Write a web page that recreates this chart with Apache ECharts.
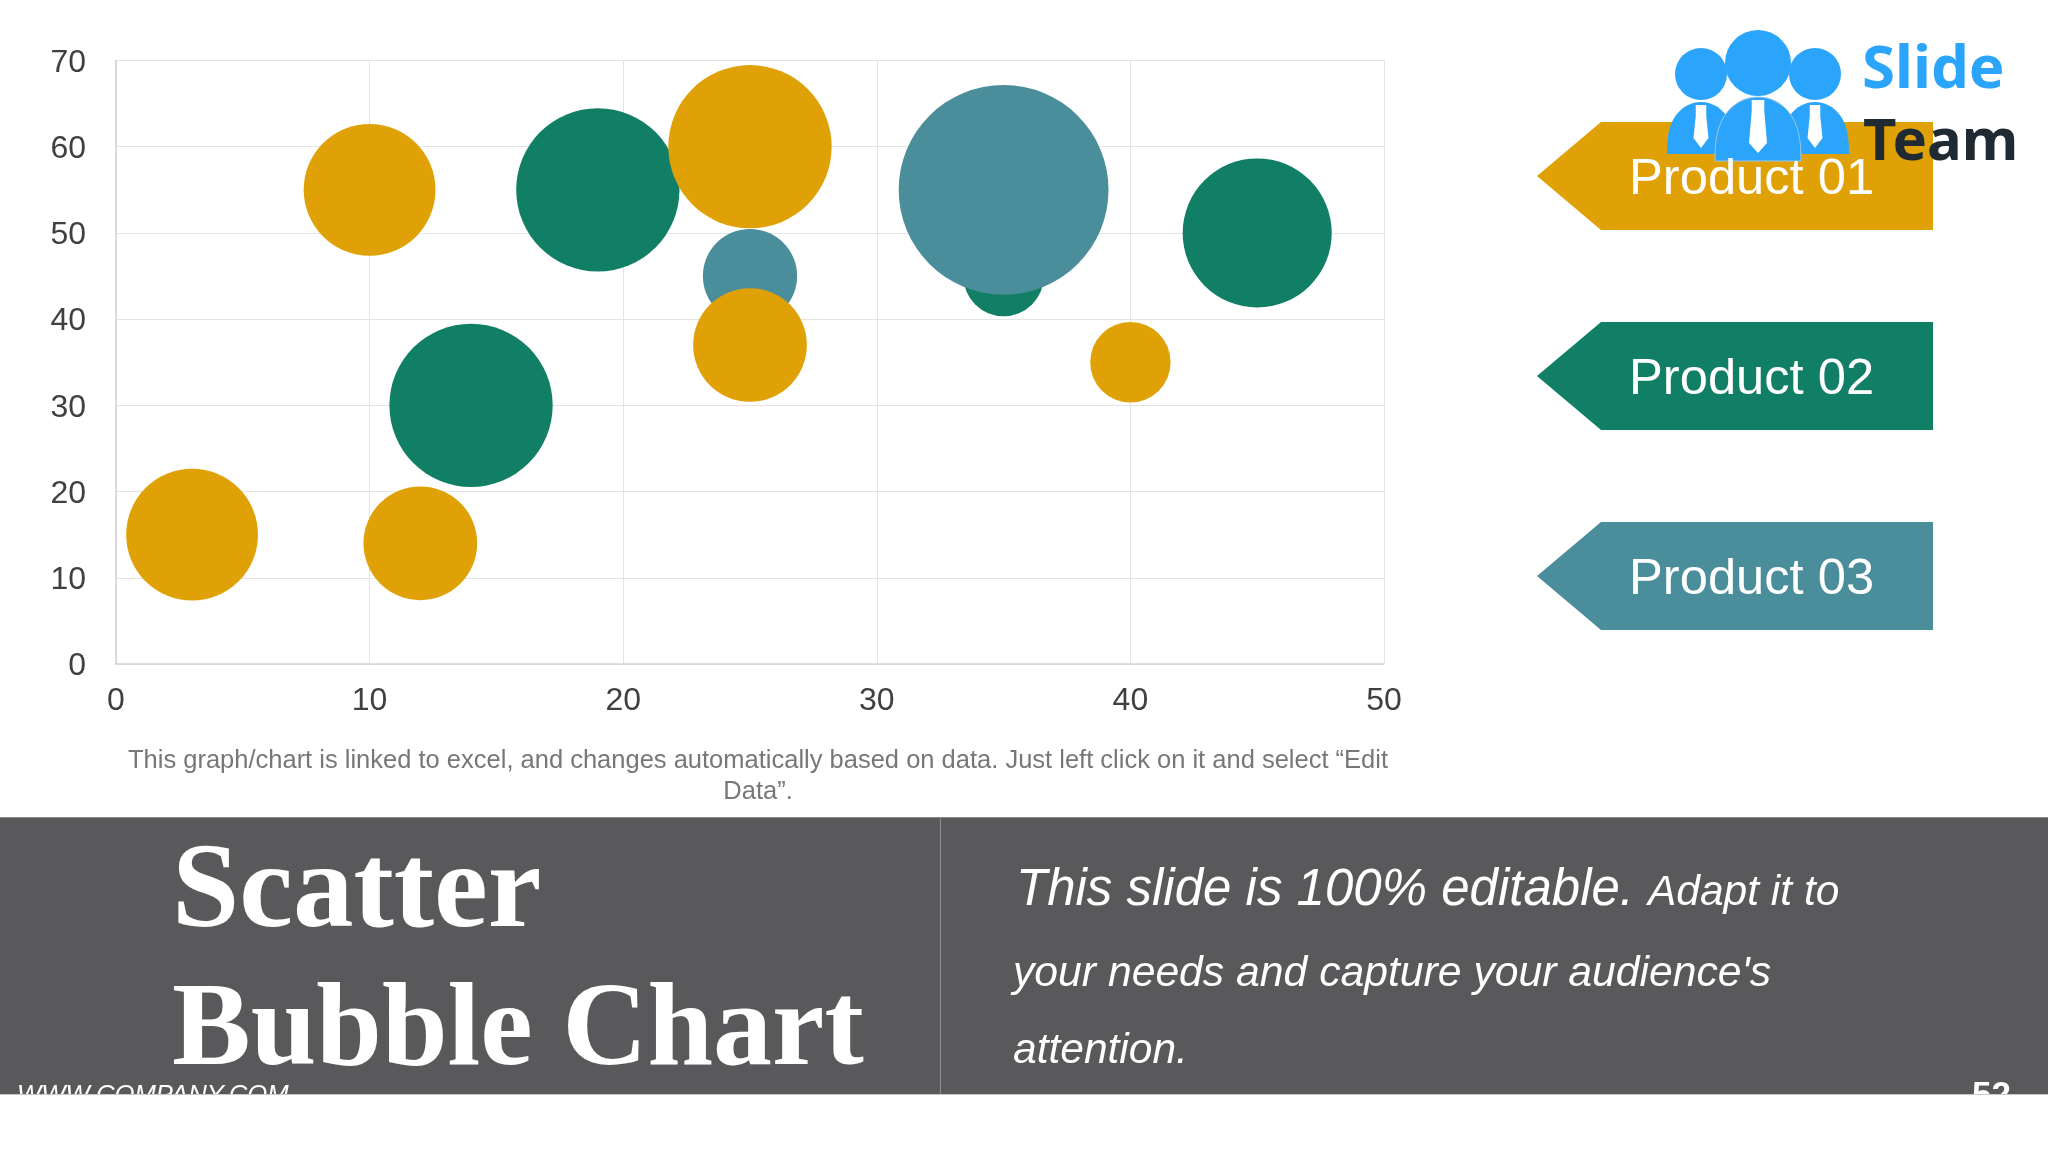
<!DOCTYPE html>
<html><head><meta charset="utf-8">
<style>html,body{margin:0;padding:0;background:#fff}#c{width:2048px;height:1152px}</style>
<script src="https://cdn.jsdelivr.net/npm/echarts@6/dist/echarts.min.js"></script>
</head><body><div id="c"></div>
<script>
const xTicks = [0, 10, 20, 30, 40, 50];
const yTicks = [0, 10, 20, 30, 40, 50, 60, 70];
const seriesNames = ['Product 01', 'Product 02', 'Product 03'];
// [x, y, bubble value]
const product01 = [[3, 15, 43], [10, 55, 43], [12, 14, 32], [25, 37, 32], [25, 60, 66], [40, 35, 16]];
const product02 = [[14, 30, 66], [19, 55, 66], [35, 45, 16], [45, 50, 55]];
const product03 = [[25, 45, 22], [35, 55, 109]];
const caption = ['This graph/chart is linked to excel, and changes automatically based on data. Just left click on it and select “Edit', 'Data”.'];
const titleLines = ['Scatter', 'Bubble Chart'];
const bodyLines = ['This slide is 100% editable.', 'Adapt it to', 'your needs and capture your audience\'s', 'attention.'];
const footerLeft = 'WWW.COMPANY.COM';
const pageNumber = '52';
const logoWords = ['Slide', 'Team'];

const YEL = '#e0a106', GRN = '#117f65', TEAL = '#4a8e9b', BAND = '#59585b', BLUE = '#2aa5fb';
const colors = [YEL, GRN, TEAL];
const SANS = '"Liberation Sans"';

function txt(text, x, y, size, fill, o) {
  o = o || {};
  return {type: 'text', silent: true, style: {text, x, y, fill,
    font: (o.style || '') + ' ' + size + 'px ' + (o.family || SANS),
    align: o.align || 'left', verticalAlign: 'middle'}};
}
function arrow(cy, color) {
  return {type: 'polygon', silent: true, shape: {points: [[1537, cy], [1601, cy - 54], [1933, cy - 54], [1933, cy + 54], [1601, cy + 54]]}, style: {fill: color}};
}
function circle(cx, cy, r) {
  return {type: 'circle', silent: true, shape: {cx, cy, r}, style: {fill: BLUE}};
}
function dome(cx, hw, top, bottom, stroke) {
  const pts = [];
  for (let a = 0; a <= 180; a += 6) {
    const t = a * Math.PI / 180;
    pts.push([cx - hw * Math.cos(t), bottom - (bottom - top) * Math.pow(Math.sin(t), 0.75)]);
  }
  return {type: 'polygon', silent: true, shape: {points: pts}, style: {fill: BLUE, stroke: stroke || null, lineWidth: stroke ? 1 : 0}};
}
function tie(cx, top, bottom, w) {
  return {type: 'polygon', silent: true, shape: {points: [[cx - w * 0.7, top], [cx + w * 0.7, top], [cx + w * 0.7, top + 11], [cx + w, bottom - 10], [cx, bottom], [cx - w, bottom - 10], [cx - w * 0.7, top + 11]]}, style: {fill: '#fff'}};
}
const arrowYs = [176, 376, 576];
const elements = [
  {type: 'rect', silent: true, shape: {x: 0, y: 817, width: 2048, height: 277}, style: {fill: BAND}},
  {type: 'rect', silent: true, shape: {x: 0, y: 817, width: 2048, height: 1}, style: {fill: '#8b8b8d'}},
  {type: 'rect', silent: true, shape: {x: 940, y: 818, width: 1, height: 276}, style: {fill: '#8f8f91'}},
  arrow(arrowYs[0], colors[0]), arrow(arrowYs[1], colors[1]), arrow(arrowYs[2], colors[2]),
  // logo
  circle(1701, 74, 26), circle(1815, 74, 26), circle(1758, 63, 33),
  dome(1701, 34, 102, 154), dome(1815, 34, 102, 154),
  tie(1701, 105, 148, 7.5), tie(1815, 105, 148, 7.5),
  dome(1758, 43, 97, 161, '#9cc7dc'),
  tie(1758, 100, 153, 9),
  txt(logoWords[0], 1862, 71, 60, BLUE, {style: 'bold', family: '"Noto Sans"'}),
  txt(logoWords[1], 1863, 143, 58, '#1f2a33', {style: 'bold', family: '"Noto Sans"'}),
  txt(seriesNames[0], 1629, arrowYs[0] + 4, 50.7, '#fff'),
  txt(seriesNames[1], 1629, arrowYs[1] + 4, 50.7, '#fff'),
  txt(seriesNames[2], 1629, arrowYs[2] + 4, 50.7, '#fff'),
  txt(caption[0], 758, 761, 25.5, '#77777a', {align: 'center'}),
  txt(caption[1], 758, 792, 25.5, '#77777a', {align: 'center'}),
  txt(titleLines[0], 172, 895, 121, '#fff', {style: 'bold', family: '"Liberation Serif"'}),
  txt(titleLines[1], 172, 1034, 118, '#fff', {style: 'bold', family: '"Liberation Serif"'}),
  txt(bodyLines[0], 1016, 891, 51, '#fff', {style: 'italic'}),
  txt(bodyLines[1], 1648, 893, 42.5, '#fff', {style: 'italic'}),
  txt(bodyLines[2], 1013, 974, 42.7, '#fff', {style: 'italic'}),
  txt(bodyLines[3], 1013, 1051, 42.5, '#fff', {style: 'italic'}),
  txt(footerLeft, 17, 1096, 25.7, '#fff', {style: 'italic'}),
  txt(pageNumber, 1972, 1096, 35, '#fff', {style: 'bold'}),
  {type: 'rect', silent: true, shape: {x: 0, y: 1094, width: 2048, height: 1}, style: {fill: '#c9c9ca'}},
  {type: 'rect', silent: true, shape: {x: 0, y: 1095, width: 2048, height: 57}, style: {fill: '#fff'}}
];

const axisCommon = {
  type: 'value',
  axisTick: {show: false},
  axisLine: {show: true, lineStyle: {color: '#d2d2d2', width: 1.5}},
  splitLine: {show: true, lineStyle: {color: '#e4e4e4', width: 1}},
  axisLabel: {color: '#404040', fontFamily: SANS, fontSize: 32}
};
const chart = echarts.init(document.getElementById('c'), null, {renderer: 'canvas'});
const mk = (name, data, i) => ({
  name, type: 'scatter', data, clip: false, z: 2 + i,
  symbolSize: v => Math.sqrt(v[2]) * 20.1,
  itemStyle: {color: colors[seriesNames.indexOf(name)], opacity: 1},
  emphasis: {disabled: true}
});
chart.setOption({
  animation: false,
  backgroundColor: '#fff',
  grid: {left: 116, right: 664, top: 60.5, bottom: 488},
  xAxis: Object.assign({}, axisCommon, {min: xTicks[0], max: xTicks[xTicks.length - 1], interval: xTicks[1] - xTicks[0],
    axisLabel: Object.assign({}, axisCommon.axisLabel, {margin: 21})}),
  yAxis: Object.assign({}, axisCommon, {min: yTicks[0], max: yTicks[yTicks.length - 1], interval: yTicks[1] - yTicks[0],
    axisLabel: {margin: 30, formatter: '{a|{value}}',
      rich: {a: {color: '#404040', fontFamily: SANS, fontSize: 32, padding: [5, 0, 0, 0]}}}}),
  series: [mk(seriesNames[1], product02, 0), mk(seriesNames[2], product03, 1), mk(seriesNames[0], product01, 2)],
  graphic: {elements}
});
</script></body></html>
